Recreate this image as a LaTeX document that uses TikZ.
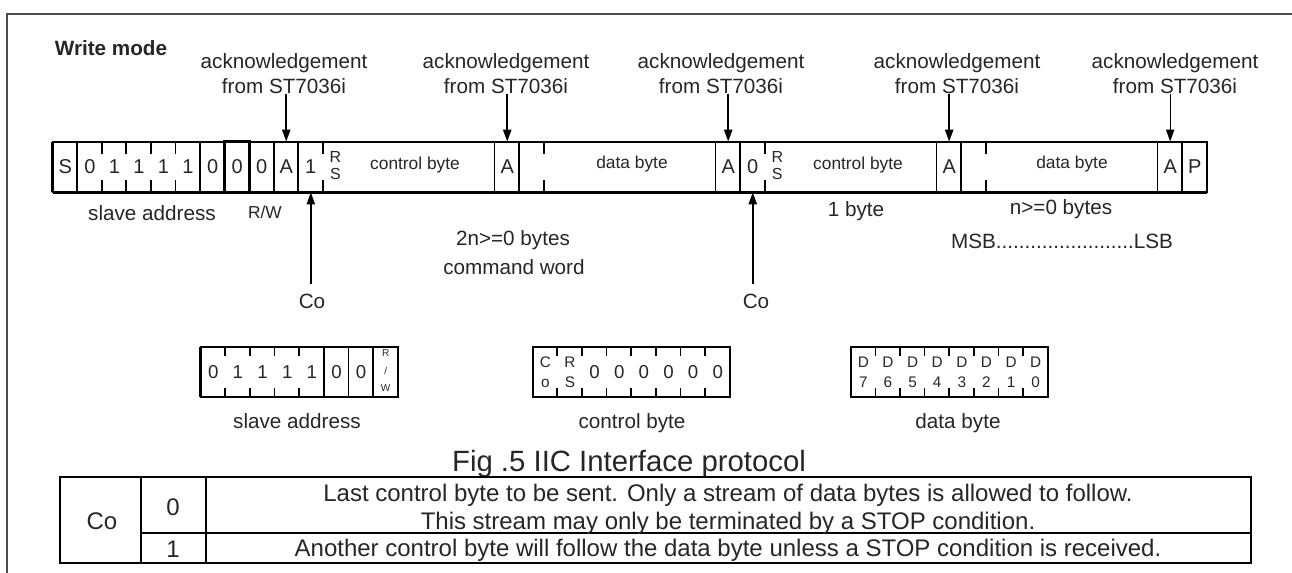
\documentclass[tikz,border=0pt]{standalone}
\usepackage{fontspec}
\setmainfont{Liberation Sans}
\usetikzlibrary{arrows.meta}
\begin{document}
\begin{tikzpicture}[x=0.75pt,y=-0.75pt,
  txt/.style={inner sep=0pt,anchor=base,text=black!85},
  lbl/.style={txt,font=\fontsize{15.5}{18}\selectfont},
  bitc/.style={inner sep=0pt,anchor=center,text=black!85,font=\fontsize{15}{18}\selectfont},
  bitb/.style={inner sep=0pt,anchor=center,text=black!85,font=\fontsize{14}{17}\selectfont},
  mid/.style={txt,font=\fontsize{13}{15}\selectfont},
  stk/.style={txt,font=\fontsize{12}{14}\selectfont},
  stkb/.style={txt,font=\fontsize{11.5}{14}\selectfont},
  micro/.style={txt,font=\fontsize{7.5}{9}\selectfont},
  tbl/.style={txt,font=\fontsize{18}{21}\selectfont},
  cellbox/.style={inner sep=0pt,minimum width=18.415pt,minimum height=37.5pt},
  bbox/.style={inner sep=0pt,minimum width=18.47pt,minimum height=37.5pt},
  tick/.style={line width=1.4pt},
  btick/.style={line width=1.3pt},
  full/.style={line width=1.2pt},
  ar/.style={line width=1.6pt,-{Triangle[length=9pt,width=6pt]}},
]
\useasboundingbox (0,0) rectangle (1292,573);
\def\w{24.553}
\def\bw{24.625}
% frame
\draw[line width=1.8pt,black!70] (1292,14) -- (7,14) -- (7,573);

\node[txt,font=\bfseries\fontsize{15.5}{18}\selectfont] (wm) at (111,55.5) {Write mode};

% ---------------- main bar
\foreach \k in {0,...,46} \node[cellbox] (c\k) at ({53+(\k+0.5)*\w},167) {};
\foreach \k/\t in {0/S,1/0,2/1,3/1,4/1,5/1,6/0,7/0,8/0,9/A,10/1,18/A,27/A,28/0,36/A,45/A,46/P}
  \node[bitc] (b\k) at (c\k) {\t};
\foreach \k in {2,...,5,11,...,17,20,...,26,29,...,35,38,...,44}
  \draw[tick] (c\k.north west) -- ++(0,12) (c\k.south west) -- ++(0,-12);
\foreach \k in {1,6,9,10,18,19,27,28,36,37,45,46}
  \draw[full] (c\k.north west) -- (c\k.south west);
\draw[line width=2.2pt] (c7.north west) rectangle (c7.south east);
\draw[line width=1.4pt] (c0.north west) rectangle (c46.south east);
\draw[line width=2.4pt] (c0.south west) -- (c46.south east);
\draw[line width=2.2pt] (c0.north west) -- (c0.south west);

\node[stk] (r11) at (c11 |- 0,163) {R};
\node[stk] (s11) at (c11 |- 0,180) {S};
\node[stk] (r29) at (c29 |- 0,163) {R};
\node[stk] (s29) at (c29 |- 0,180) {S};
\node[mid] (cb1) at (415,170) {control byte};
\node[mid] (db1) at (632,169) {data byte};
\node[mid] (cb2) at (858,170) {control byte};
\node[mid] (db2) at (1072,169) {data byte};

% acknowledgement arrows
\foreach \i/\x/\k/\lw in {1/284/9/1.6pt,2/506/18/1.6pt,3/721/27/1.6pt,4/957/36/1.6pt,5/1175/45/1.0pt}{
  \node[lbl] (acka\i) at (\x,69) {acknowledgement};
  \node[lbl] (ackb\i) at (\x,94) {from ST7036i};
  \draw[ar,line width=\lw] (ackb\i.south -| c\k) -- (c\k.north);
}

% Co arrows
\node[lbl] (co1) at (312,309) {Co};
\draw[ar,line width=1.2pt] ([yshift=8pt]co1.north -| c10) -- (c10.south);
\node[lbl] (co2) at (756,309) {Co};
\draw[ar,line width=1.8pt] ([yshift=8pt]co2.north -| c28) -- (c28.south);

% labels under bar
\node[lbl] (sa) at (152,221) {slave address};
\node[mid] (rw) at (265,219) {R/W};
\node[lbl] (n2) at (513,246) {2n>=0 bytes};
\node[lbl] (cw) at (514,275) {command word};
\node[lbl] (ob) at (856,217) {1 byte};
\node[lbl] (nb) at (1061,215) {n>=0 bytes};
\node[lbl] (ml) at (1062,249) {MSB........................LSB};

% ---------------- detail boxes
\foreach \k in {0,...,7}{
  \node[bbox] (s\k) at ({201+(\k+0.5)*\bw},372) {};
  \node[bbox] (k\k) at ({533+(\k+0.5)*\bw},372) {};
  \node[bbox] (d\k) at ({851+(\k+0.5)*\bw},372) {};
}
% slave address box
\foreach \k/\t in {0/0,1/1,2/1,3/1,4/1,5/0,6/0} \node[bitb] (st\k) at (s\k) {\t};
\node[micro] (rwr) at (s7 |- 0,357) {R};
\node[micro] (rws) at (s7 |- 0,375) {/};
\node[micro] (rww) at (s7 |- 0,392) {W};
\foreach \k in {1,...,4}
  \draw[btick] (s\k.north west) -- ++(0,9) (s\k.south west) -- ++(0,-9);
\draw[line width=2pt] (s5.north west) -- (s5.south west);
\foreach \k in {6,7} \draw[full] (s\k.north west) -- (s\k.south west);
\draw[line width=1.4pt] (s0.north west) rectangle (s7.south east);
\draw[line width=2.2pt] (s0.north west) -- (s0.south west);
\node[lbl] (sal) at (297,428) {slave address};

% control byte box
\node[stkb] (kc) at (k0 |- 0,367.5) {C};
\node[stkb] (ko) at (k0 |- 0,387.5) {o};
\node[stkb] (kr) at (k1 |- 0,367.5) {R};
\node[stkb] (ks) at (k1 |- 0,387.5) {S};
\foreach \k in {2,...,7} \node[bitb] (kt\k) at (k\k) {0};
\foreach \k in {1,...,7}
  \draw[btick] (k\k.north west) -- ++(0,9) (k\k.south west) -- ++(0,-9);
\draw[line width=1.4pt] (k0.north west) rectangle (k7.south east);
\node[lbl] (cbl) at (632,428) {control byte};

% data byte box
\foreach \k in {0,...,7}{
  \pgfmathtruncatemacro{\bit}{7-\k}
  \node[stkb] (dd\k) at (d\k |- 0,367.5) {D};
  \node[stkb] (dn\k) at (d\k |- 0,387.5) {\bit};
}
\foreach \k in {1,...,7}
  \draw[btick] (d\k.north west) -- ++(0,9) (d\k.south west) -- ++(0,-9);
\draw[line width=1.4pt] (d0.north west) rectangle (d7.south east);
\node[lbl] (dbl) at (958,428) {data byte};

% ---------------- caption and table
\node[txt,font=\fontsize{22}{26}\selectfont] (cap) at (629,471) {Fig .5 IIC Interface protocol};

\draw[line width=1.4pt] (141,477) -- (141,563) (206,477) -- (206,563) (141,533) -- (1251,533);
\draw[line width=2.2pt] (60,477) rectangle (1251,563);
\node[tbl] (tco) at (102,529) {Co};
\node[tbl] (t0) at (173,515) {0};
\node[tbl] (t1) at (173,557) {1};
\node[tbl] (l1) at (728,501) {Last control byte to be sent. Only a stream of data bytes is allowed to follow.};
\node[tbl] (l2) at (728,529) {This stream may only be terminated by a STOP condition.};
\node[tbl] (l3) at (728,556.5) {Another control byte will follow the data byte unless a STOP condition is received.};
\end{tikzpicture}
\end{document}
